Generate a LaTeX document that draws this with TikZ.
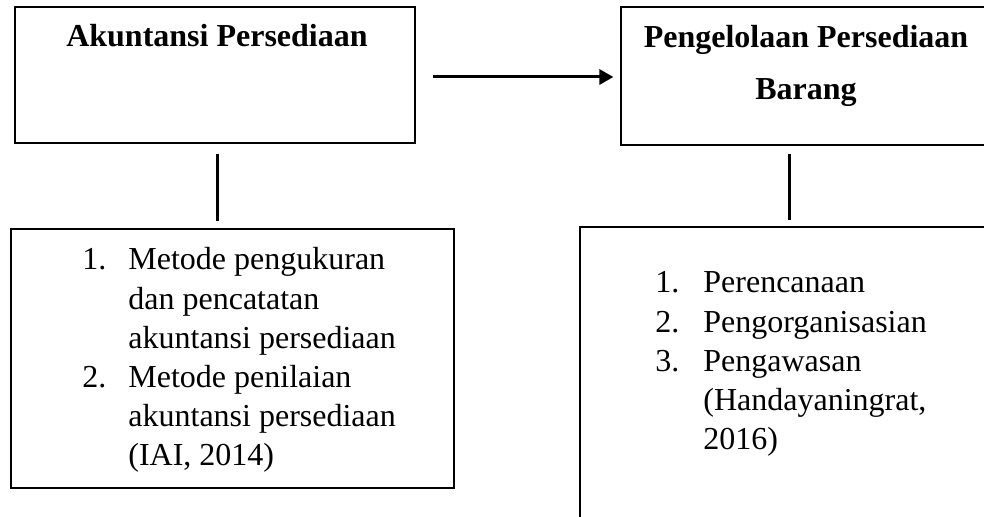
\documentclass[tikz,border=0pt]{standalone}
\usepackage{fontspec}
\setmainfont{Liberation Serif}
\usetikzlibrary{arrows.meta}
\begin{document}
\begin{tikzpicture}[x=0.5pt, y=-0.5pt,
    thinbox/.style={draw, line width=0.6pt, inner sep=0pt},
    thickbox/.style={draw, line width=1.3pt, inner sep=0pt},
    link/.style={line width=1.5pt},
    titletext/.style={inner sep=0pt, font=\fontsize{16}{19.5}\selectfont\bfseries},
    listtext/.style={inner sep=0pt, font=\fontsize{16}{19.6}\selectfont}]
          \useasboundingbox (0, 0) rectangle (984, 517);
          \node[thinbox, minimum width=200pt, minimum height=68pt] (akun) at (215, 75) {};
          \node[thinbox, minimum width=185pt, minimum height=69pt] (peng) at (806, 76) {};
          \node[thickbox, minimum width=221.5pt, minimum height=129.5pt] (listA) at (232.5, 358.5) {};
          \node[thickbox, minimum width=210pt, minimum height=166.5pt] (listB) at (790, 393.5) {};
          \node[titletext, anchor=base] (akunT) at (217, 47) {Akuntansi Persediaan};
          \node[titletext, anchor=base] (pengT) at (806, 48)
            {\begin{tabular}[t]{@{}c@{}}Pengelolaan Persediaan\\[6.5pt]Barang\end{tabular}};
          \node[listtext, anchor=base west] (itemsA) at (82, 270)
            {\begin{tabular}[t]{@{}p{23pt}@{}l@{}}
              1. & Metode pengukuran\\
                 & dan pencatatan\\
                 & akuntansi persediaan\\
              2. & Metode penilaian\\
                 & akuntansi persediaan\\
                 & (IAI, 2014)
            \end{tabular}};
          \node[listtext, anchor=base west] (itemsB) at (655, 293)
            {\begin{tabular}[t]{@{}p{24pt}@{}l@{}}
              1. & Perencanaan\\
              2. & Pengorganisasian\\
              3. & Pengawasan\\
                 & (Handayaningrat,\\
                 & 2016)
            \end{tabular}};
          \draw[link, -{Triangle[length=7pt, width=7.5pt]}, shorten <=8.5pt, shorten >=3.5pt]
            (akun.east |- 0, 77) -- (peng.west |- 0, 77);
          \draw[link, shorten <=5pt, shorten >=3.5pt]
            ([xshift=1pt]akun.south) -- ([xshift=1pt]akun.south |- listA.north);
          \draw[link, shorten <=4pt, shorten >=3pt]
            ([xshift=-0.5pt]peng.south -| listB.north) -- ([xshift=-0.5pt]listB.north);
        \end{tikzpicture}
\end{document}
